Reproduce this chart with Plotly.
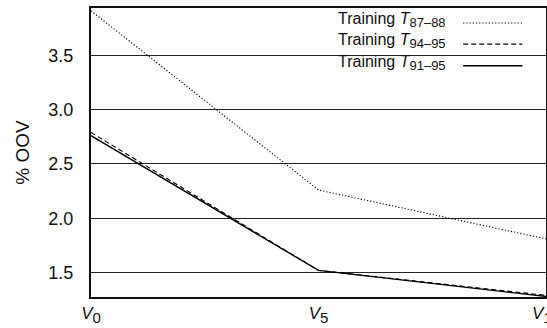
import plotly.graph_objects as go

x_pos = [0, 5, 10]
x_labels = ["<i>V</i><sub><span style='font-size:15px'>0</span></sub>",
            "<i>V</i><sub><span style='font-size:15px'>5</span></sub>",
            "<i>V</i><sub><span style='font-size:15px'>10</span></sub>"]
names = ["Training <i>T</i><sub><span style='font-size:13px'>87–88</span></sub>",
         "Training <i>T</i><sub><span style='font-size:13px'>94–95</span></sub>",
         "Training <i>T</i><sub><span style='font-size:13px'>91–95</span></sub>"]
oov_87_88 = [3.91, 2.26, 1.81]
oov_94_95 = [2.79, 1.52, 1.29]
oov_91_95 = [2.76, 1.52, 1.28]
y_ticks = [1.5, 2.0, 2.5, 3.0, 3.5]

series = [oov_87_88, oov_94_95, oov_91_95]
dashes = ["1.2px,2px", "5px,3px", "solid"]
widths = [1.1, 1.1, 1.4]

fig = go.Figure()
for vals, d, w, n in zip(series, dashes, widths, names):
    fig.add_trace(go.Scatter(x=x_pos, y=vals, mode="lines", name=n,
                             line=dict(color="black", dash=d, width=w),
                             showlegend=False, cliponaxis=False))

# manual legend: text on the left, line sample on the right
row_y = [0.958, 0.885, 0.81]
for n, d, w, yy in zip(names, dashes, widths, row_y):
    fig.add_annotation(x=0.785, y=yy, xref="paper", yref="paper", text=n,
                       showarrow=False, xanchor="right", yanchor="middle",
                       font=dict(size=16, color="#111", family="Liberation Sans, Arial"))
    fig.add_shape(type="line", xref="paper", yref="paper",
                  x0=0.818, x1=0.948, y0=yy - 0.01, y1=yy - 0.01,
                  line=dict(color="black", dash=d, width=w))

fig.update_layout(
    width=547, height=328,
    margin=dict(l=91, r=1, t=8, b=31),
    paper_bgcolor="white", plot_bgcolor="white",
    font=dict(family="Liberation Sans, Arial", color="#111"),
    xaxis=dict(range=[0, 10], tickvals=x_pos, ticktext=x_labels,
               showgrid=False, zeroline=False, showline=True, mirror=True,
               linecolor="#111", linewidth=2, ticks="", automargin=False,
               ticklabeloverflow="allow",
               tickfont=dict(size=17)),
    yaxis=dict(range=[1.275, 3.936], tickvals=y_ticks,
               ticktext=["1.5", "2.0", "2.5", "3.0", "3.5"],
               showgrid=True, gridcolor="#222", gridwidth=1.2,
               zeroline=False, showline=True, mirror=True,
               linecolor="#111", linewidth=2, ticks="", automargin=False,
               ticklabelstandoff=12,
               tickfont=dict(size=18),
               title=dict(text="% OOV", font=dict(size=19), standoff=14)),
)

fig.write_html("out.html", config={"displayModeBar": False},
               post_script="document.body.style.margin='0';document.body.style.overflow='hidden';")
